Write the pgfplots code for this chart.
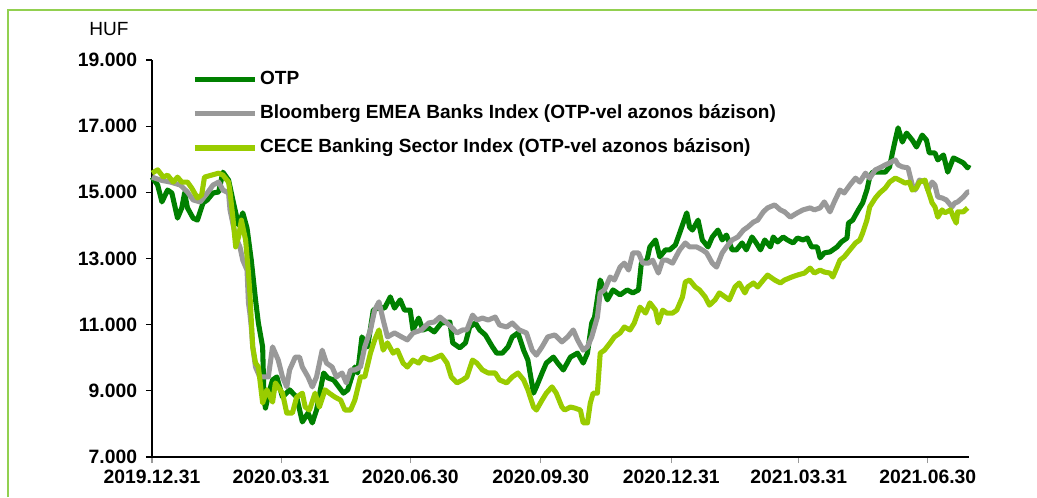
\documentclass[border=0pt]{standalone}
\usepackage{fontspec}
\setmainfont{Liberation Sans}
\usepackage{pgfplots}
\pgfplotsset{compat=1.18}
\definecolor{otp}{RGB}{0,128,0}
\definecolor{bbg}{RGB}{153,153,153}
\definecolor{cece}{RGB}{153,204,0}
\definecolor{frame}{RGB}{146,208,80}
\begin{document}
\begin{tikzpicture}
\path[use as bounding box] (0,0) rectangle (777.75pt,372.75pt);
\draw[frame, line width=1.6pt] (6pt,0) -- (6pt,365.25pt) -- (777.75pt,365.25pt);
\begin{axis}[
  at={(114pt,30pt)}, anchor=south west,
  scale only axis, width=612.75pt, height=297.75pt,
  xmin=0, xmax=576, ymin=7000, ymax=19000,
  clip=false,
  axis x line*=bottom, axis y line*=left,
  axis line style={black, line width=0.8pt},
  tick align=outside,
  major tick length=4.5pt,
  xtick={0,91,182,274,366,456,547},
  xticklabels={2019.12.31,2020.03.31,2020.06.30,2020.09.30,2020.12.31,2021.03.31,2021.06.30},
  xtick style={bbg, line width=0.8pt},
  ytick={7000,9000,11000,13000,15000,17000,19000},
  ytick style={black, line width=0.8pt},
  scaled y ticks=false,
  yticklabel={\pgfmathprintnumber[fixed, precision=0, 1000 sep={.}, assume math mode=true]{\tick}},
  tick label style={font=\fontsize{14.5}{17}\selectfont\bfseries},
  yticklabel style={xshift=-3.2pt},
  xticklabel style={yshift=-2pt},
  legend style={at={(axis description cs:0.049,0.98)}, anchor=north west,
    draw=none, fill=none, inner sep=0pt, row sep=8.3pt,
    font=\fontsize{14.3}{17}\selectfont\bfseries,
    nodes={inner xsep=2pt, inner ysep=2pt, text height=10.3pt, text depth=3pt}},
  legend cell align=left,
  legend image code/.code={\draw[#1, line width=3.8pt, line cap=butt] (0pt,0pt) -- (45pt,0pt);},
]
\addplot[otp, line width=3.8pt, line join=round] coordinates {
(0,15460) (4,15220) (7,14710) (11,15070) (14,14980) (18,14220) (21,14530) (23,14980) (25,14530) (29,14220)
(32,14160) (36,14680) (39,14770) (43,14980) (47,15010) (50,15610) (54,15370) (57,14770) (61,14010) (64,14380)
(67,13920) (70,12950) (73,11750) (75,11050) (78,10330) (79,8720) (80,8480) (83,9030) (85,9330) (88,9420)
(92,8810) (97,9030) (102,8810) (106,8060) (110,8330) (113,8030) (116,8420) (121,9540) (124,9390) (128,9330)
(135,8930) (138,9030) (143,9720) (145,9540) (148,10630) (152,10330) (156,11440) (161,11530) (164,11500) (168,11840)
(171,11500) (175,11750) (178,11440) (182,11440) (184,10840) (188,11200) (191,10840) (195,10900) (199,10780) (204,11050)
(210,11080) (212,10450) (217,10300) (221,10450) (224,10930) (228,11050) (231,10840) (235,10690) (240,10330) (243,10140)
(247,10140) (251,10330) (254,10630) (258,10750) (262,10230) (265,9930) (269,8930) (271,9120) (275,9540) (278,9840)
(283,10020) (286,9840) (290,9630) (295,10020) (300,10140) (304,9840) (307,10140) (310,11050) (312,11230) (316,12350)
(318,12140) (321,11750) (325,12050) (330,11900) (335,12050) (339,11960) (343,12050) (345,12860) (349,12950) (351,13350)
(355,13560) (358,13050) (362,13260) (365,13260) (369,13410) (372,13770) (377,14380) (379,13950) (381,13860) (385,14160)
(388,13560) (392,13350) (395,13650) (399,13860) (402,13560) (405,13710) (409,13260) (412,13260) (416,13470) (419,13260)
(423,13650) (426,13470) (429,13260) (432,13560) (436,13350) (438,13650) (441,13500) (445,13650) (448,13560) (452,13470)
(455,13620) (459,13560) (462,13620) (465,13350) (469,13350) (471,13020) (474,13170) (478,13200) (483,13350) (486,13500)
(490,13620) (491,14070) (494,14160) (498,14470) (501,14680) (504,15070) (506,15460) (508,15610) (513,15610) (517,15610)
(520,15770) (522,16190) (524,16580) (526,16950) (529,16520) (532,16790) (536,16580) (539,16370) (543,16730) (546,16580)
(548,16190) (552,16190) (554,15980) (558,16130) (561,15610) (565,16040) (568,15980) (572,15890) (575,15740) (576,15830)
};
\addlegendentry{OTP}
\addplot[bbg, line width=3.8pt, line join=round] coordinates {
(0,15460) (6,15370) (13,15310) (20,15220) (25,15010) (29,14770) (34,14710) (39,14980) (43,15220) (47,15310)
(50,15070) (54,14980) (55,14470) (59,13650) (62,13350) (64,12950) (67,12650) (68,11660) (69,11350) (70,10930)
(71,10330) (73,9720) (76,9420) (80,9420) (82,9420) (85,10330) (89,9930) (92,9420) (95,9120) (97,9630)
(101,10020) (104,10020) (106,9720) (110,9420) (113,9120) (116,9420) (120,10230) (123,9840) (127,9720) (130,9420)
(134,9540) (137,9240) (140,9630) (143,9630) (147,9720) (150,10330) (154,10840) (157,11440) (160,11690) (163,11140)
(166,10630) (171,10750) (176,10630) (180,10540) (184,10750) (190,10840) (195,11050) (199,11080) (203,11230) (208,11050)
(211,10930) (215,10750) (219,10840) (222,10840) (226,11290) (229,11140) (233,11200) (237,11140) (242,11230) (245,10990)
(250,10930) (254,11050) (259,10840) (264,10750) (268,10230) (271,10080) (275,10330) (279,10630) (284,10690) (289,10480)
(293,10630) (297,10840) (300,10540) (304,10230) (307,10330) (310,10630) (314,11230) (316,11960) (319,12050) (323,12440)
(326,12350) (330,12740) (333,12860) (336,12650) (339,13170) (343,13170) (346,12860) (350,12860) (353,12950) (357,12560)
(360,12950) (363,12950) (367,12860) (372,13260) (376,13470) (379,13350) (384,13350) (388,13260) (391,13170) (395,12860)
(398,12740) (402,13170) (405,13350) (409,13560) (413,13650) (417,13860) (420,13950) (424,14100) (427,14160) (431,14410)
(434,14530) (439,14620) (443,14470) (446,14410) (450,14250) (455,14380) (459,14470) (464,14530) (467,14470) (471,14530)
(474,14710) (478,14410) (481,14710) (485,15070) (488,14980) (492,15220) (496,15430) (499,15310) (503,15580) (506,15430)
(510,15680) (513,15740) (517,15830) (520,15890) (524,15980) (526,15830) (529,15770) (533,15740) (536,15220) (538,15070)
(541,15370) (545,15310) (547,15070) (550,15310) (552,15220) (554,14860) (557,14830) (560,14770) (564,14560) (566,14680)
(568,14710) (572,14860) (575,15010) (576,15010)
};
\addlegendentry{Bloomberg EMEA Banks Index (OTP-vel azonos bázison)}
\addplot[cece, line width=3.8pt, line join=round] coordinates {
(0,15580) (4,15680) (8,15460) (11,15520) (15,15310) (18,15460) (21,15310) (25,15310) (28,15130) (32,14830)
(35,14920) (37,15460) (42,15520) (47,15580) (50,15520) (54,15310) (55,15010) (57,14250) (59,13350) (61,13650)
(63,14160) (66,13560) (68,12560) (69,11960) (70,11140) (71,10330) (73,9840) (75,9720) (78,8630) (81,9030)
(85,8660) (87,9240) (92,8930) (95,8330) (99,8330) (102,8810) (106,8930) (108,8510) (111,8420) (115,8930)
(118,8510) (122,9030) (125,8930) (129,8810) (133,8720) (136,8420) (140,8420) (143,8720) (147,9420) (150,9420)
(154,10140) (157,10540) (160,10840) (163,10230) (166,10450) (170,10140) (173,10230) (177,9840) (180,9720) (184,9930)
(188,9840) (191,10020) (196,9930) (201,10020) (204,10080) (208,9840) (211,9420) (215,9240) (219,9330) (222,9420)
(226,9930) (229,9840) (233,9630) (237,9540) (242,9540) (245,9330) (250,9240) (254,9420) (258,9540) (262,9330)
(265,9030) (269,8510) (271,8420) (275,8720) (278,8930) (282,9120) (285,8930) (289,8510) (291,8420) (295,8510)
(298,8480) (302,8420) (304,8030) (307,8030) (309,8630) (311,8930) (314,8930) (316,10140) (319,10230) (323,10450)
(326,10630) (330,10750) (333,10930) (337,10840) (340,11050) (344,11530) (348,11350) (351,11660) (355,11440) (357,11050)
(360,11440) (363,11350) (367,11350) (370,11440) (374,11840) (376,12290) (379,12350) (383,12140) (386,12050) (390,11840)
(393,11590) (397,11750) (400,11960) (404,11840) (407,11750) (411,12140) (414,12260) (418,11960) (420,12140) (424,12260)
(427,12140) (431,12350) (434,12500) (439,12350) (443,12260) (446,12350) (451,12440) (455,12500) (460,12560) (464,12710)
(467,12560) (471,12650) (474,12590) (478,12560) (480,12440) (483,12740) (485,12950) (488,13050) (492,13260) (496,13470)
(499,13560) (501,13770) (504,14160) (506,14560) (510,14830) (513,14980) (517,15130) (520,15310) (524,15430) (527,15370)
(531,15280) (534,15310) (536,15070) (539,15130) (541,15310) (545,15370) (547,15070) (550,14680) (552,14560) (554,14250)
(557,14470) (559,14380) (563,14470) (565,14250) (567,14070) (568,14410) (572,14410) (575,14530)
};
\addlegendentry{CECE Banking Sector Index (OTP-vel azonos bázison)}
\node[font=\fontsize{14.3}{17}\selectfont, anchor=center] at (rel axis cs:-0.0526,1.078) {HUF};
\end{axis}
\end{tikzpicture}
\end{document}
